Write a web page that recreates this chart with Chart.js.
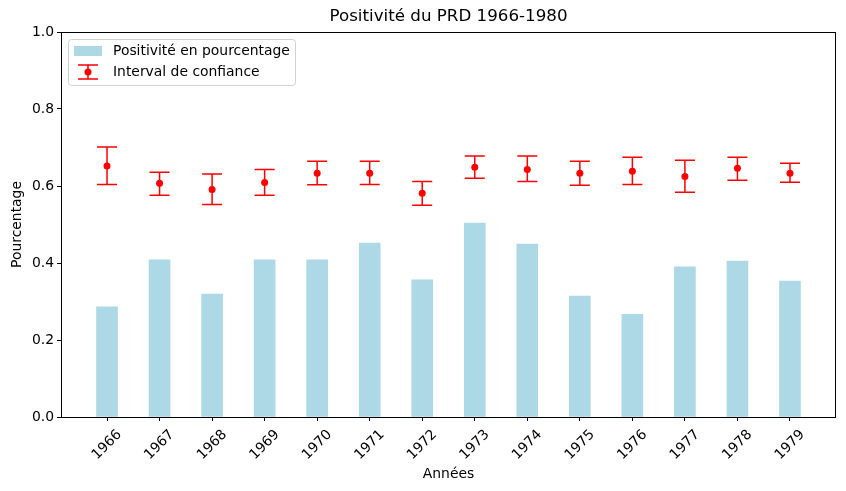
<!DOCTYPE html>
<html>
<head>
<meta charset="utf-8">
<script src="https://cdn.jsdelivr.net/npm/chart.js@4/dist/chart.umd.min.js"></script>
<style>
  html, body { margin: 0; padding: 0; background: #fff; }
  #wrap { width: 846px; height: 491px; }
</style>
</head>
<body>
<div id="wrap"><canvas id="c" width="846" height="491"></canvas></div>
<script>
const YEARS = [1966, 1967, 1968, 1969, 1970, 1971, 1972, 1973, 1974, 1975, 1976, 1977, 1978, 1979];
const POSITIVITY = [0.286, 0.408, 0.319, 0.408, 0.408, 0.452, 0.356, 0.504, 0.449, 0.314, 0.267, 0.390, 0.405, 0.353];
const CI_MEAN = [0.652, 0.607, 0.591, 0.609, 0.633, 0.633, 0.581, 0.649, 0.643, 0.633, 0.638, 0.625, 0.646, 0.633];
const CI_LOW = [0.604, 0.576, 0.552, 0.576, 0.603, 0.604, 0.550, 0.620, 0.612, 0.602, 0.604, 0.584, 0.615, 0.610];
const CI_HIGH = [0.701, 0.636, 0.631, 0.643, 0.664, 0.664, 0.612, 0.678, 0.678, 0.664, 0.675, 0.667, 0.675, 0.659];
const Y_TICKS = [0, 0.2, 0.4, 0.6, 0.8, 1.0];

const TITLE = 'Positivité du PRD 1966-1980';
const X_LABEL = 'Années';
const Y_LABEL = 'Pourcentage';
const BAR_LABEL = 'Positivité en pourcentage';
const CI_LABEL = 'Interval de confiance';

const FONT = '"DejaVu Sans", sans-serif';
const BAR_COLOR = '#add8e6';
const RED = '#ff0000';

// error bars, frame, labels and legend drawn by hand (matplotlib look)
const decor = {
  id: 'decor',
  beforeDatasetsDraw(chart) {
    const { ctx } = chart;
    const xs = chart.scales.x;
    const ys = chart.scales.y;
    ctx.save();
    ctx.strokeStyle = RED;
    ctx.lineWidth = 1.5;
    YEARS.forEach((yr, i) => {
      const x = xs.getPixelForValue(yr);
      const lo = ys.getPixelForValue(CI_LOW[i]);
      const hi = ys.getPixelForValue(CI_HIGH[i]);
      ctx.beginPath();
      ctx.moveTo(x, lo); ctx.lineTo(x, hi);
      ctx.moveTo(x - 10, lo); ctx.lineTo(x + 10, lo);
      ctx.moveTo(x - 10, hi); ctx.lineTo(x + 10, hi);
      ctx.stroke();
    });
    ctx.restore();
  },
  afterDraw(chart) {
    const { ctx, chartArea: a } = chart;
    const xs = chart.scales.x;
    ctx.save();
    // frame
    ctx.strokeStyle = '#000';
    ctx.lineWidth = 1;
    ctx.strokeRect(Math.round(a.left) + 0.5, Math.round(a.top) + 0.5,
      Math.round(a.right - a.left) - 1, Math.round(a.bottom - a.top));

    ctx.fillStyle = '#000';
    // title
    ctx.font = '16.7px ' + FONT;
    ctx.textAlign = 'center';
    ctx.textBaseline = 'middle';
    ctx.fillText(TITLE, (a.left + a.right) / 2, 17);

    // x tick labels rotated 45
    ctx.font = '13.9px ' + FONT;
    YEARS.forEach((yr) => {
      const x = xs.getPixelForValue(yr);
      ctx.save();
      ctx.translate(x, a.bottom + 28);
      ctx.rotate(-Math.PI / 4);
      ctx.fillText(String(yr), 0, 0);
      ctx.restore();
    });

    // axis labels
    ctx.fillText(X_LABEL, (a.left + a.right) / 2, 474);
    ctx.save();
    ctx.translate(17.5, (a.top + a.bottom) / 2);
    ctx.rotate(-Math.PI / 2);
    ctx.fillText(Y_LABEL, 0, 0);
    ctx.restore();

    // legend
    const lx = 68.5, ly = 39.5, lw = 227, lh = 46;
    ctx.beginPath();
    ctx.roundRect(lx, ly, lw, lh, 3);
    ctx.fillStyle = 'rgba(255,255,255,0.8)';
    ctx.fill();
    ctx.strokeStyle = '#d0d0d0';
    ctx.stroke();

    ctx.fillStyle = BAR_COLOR;
    ctx.fillRect(74, 46, 28, 10);

    ctx.strokeStyle = RED;
    ctx.lineWidth = 1.5;
    ctx.beginPath();
    ctx.moveTo(88, 65); ctx.lineTo(88, 79);
    ctx.moveTo(78, 65); ctx.lineTo(98, 65);
    ctx.moveTo(78, 79); ctx.lineTo(98, 79);
    ctx.stroke();
    ctx.fillStyle = RED;
    ctx.beginPath();
    ctx.arc(88, 72, 3.5, 0, Math.PI * 2);
    ctx.fill();

    ctx.fillStyle = '#000';
    ctx.textAlign = 'left';
    ctx.fillText(BAR_LABEL, 113, 51);
    ctx.fillText(CI_LABEL, 113, 72);
    ctx.restore();
  },
};

new Chart(document.getElementById('c'), {
  type: 'bar',
  data: {
    datasets: [
      {
        type: 'bar',
        label: BAR_LABEL,
        data: YEARS.map((yr, i) => ({ x: yr, y: POSITIVITY[i] })),
        backgroundColor: BAR_COLOR,
        borderWidth: 0,
        barThickness: 21,
        order: 2,
      },
      {
        type: 'line',
        label: CI_LABEL,
        data: YEARS.map((yr, i) => ({ x: yr, y: CI_MEAN[i] })),
        showLine: false,
        pointRadius: 3.5,
        pointBackgroundColor: RED,
        pointBorderWidth: 0,
        order: 1,
      },
    ],
  },
  options: {
    responsive: false,
    animation: false,
    devicePixelRatio: 1,
    layout: { padding: { top: 32, right: 10, left: 0, bottom: 0 } },
    plugins: {
      legend: { display: false },
      title: { display: false },
      tooltip: { enabled: false },
    },
    scales: {
      x: {
        type: 'linear',
        offset: false,
        min: 1965.124,
        max: 1979.876,
        afterBuildTicks: (s) => { s.ticks = YEARS.map((v) => ({ value: v })); },
        afterFit: (s) => { s.height = 74; },
        grid: { drawOnChartArea: false, offset: false, drawTicks: true, tickLength: 4, tickColor: '#000' },
        border: { display: false },
        ticks: { display: false },
      },
      y: {
        min: 0,
        max: 1,
        afterBuildTicks: (s) => { s.ticks = Y_TICKS.map((v) => ({ value: v })); },
        afterFit: (s) => { s.width = 61; },
        grid: { drawOnChartArea: false, drawTicks: true, tickLength: 4, tickColor: '#000' },
        border: { display: false },
        ticks: {
          color: '#000',
          padding: 3,
          font: { family: FONT, size: 13.9 },
          callback: (v) => v.toFixed(1),
        },
      },
    },
  },
  plugins: [decor],
});
</script>
</body>
</html>
